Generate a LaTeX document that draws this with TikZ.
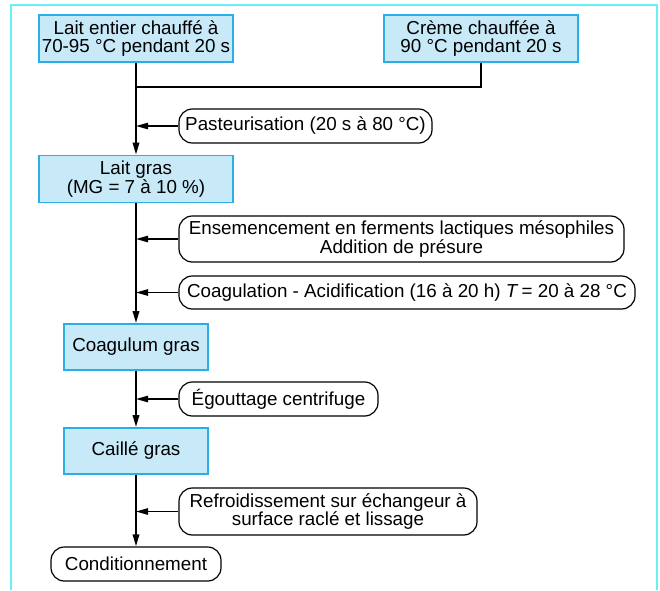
\documentclass[tikz,border=0pt]{standalone}
\usepackage{fontspec}
\setmainfont{Liberation Sans}
\usetikzlibrary{arrows.meta}
\definecolor{framecyan}{HTML}{66F2F5}
\definecolor{boxfill}{HTML}{C7E9F8}
\definecolor{boxline}{HTML}{2AAEE6}
\tikzset{
  bluebox/.style={draw=boxline, fill=boxfill, line width=1.3pt, inner sep=0pt, align=center, font=\fontsize{14.1}{13.8}\selectfont},
  pill/.style={draw=black, line width=0.9pt, rounded corners=10pt, inner sep=0pt, align=center, font=\fontsize{14.1}{13.8}\selectfont},
  mainline/.style={line width=1.5pt},
  arr/.style={-{Triangle[length=9pt,width=4.8pt]}},
}
\begin{document}
\begin{tikzpicture}[x=0.75pt,y=-0.75pt]
\useasboundingbox (0,0) rectangle (660,590);
\draw[framecyan, line width=1.8pt] (11,590) -- (11,5) -- (657,5) -- (657,590);

\node[bluebox, minimum width=194*0.75pt, minimum height=47*0.75pt] (b1) at (136,38.5) {Lait entier chauffé à\\70-95 °C pendant 20 s};
\node[bluebox, minimum width=194*0.75pt, minimum height=47*0.75pt] (b2) at (481,38.5) {Crème chauffée à\\90 °C pendant 20 s};
\coordinate (j) at (136,87);
\node[pill, minimum width=253*0.75pt, minimum height=34*0.75pt] (p1) at (305.5,126) {Pasteurisation (20 s à 80 °C)};
\node[bluebox, minimum width=194*0.75pt, minimum height=47*0.75pt] (lg) at (136,179) {Lait gras\\(MG = 7 à 10 \%)};
\node[pill, minimum width=445*0.75pt, minimum height=46*0.75pt] (p2) at (401.5,239) {Ensemencement en ferments lactiques mésophiles\\Addition de présure};
\node[pill, minimum width=456*0.75pt, minimum height=33*0.75pt] (p3) at (407,292.5) {Coagulation - Acidification (16 à 20 h) \textit{T}\,= 20 à 28 °C};
\node[bluebox, minimum width=144*0.75pt, minimum height=46*0.75pt] (cg) at (136,347) {Coagulum gras};
\node[pill, minimum width=199*0.75pt, minimum height=34*0.75pt] (p4) at (278.5,399) {Égouttage centrifuge};
\node[bluebox, minimum width=144*0.75pt, minimum height=46*0.75pt] (ca) at (136,451) {Caillé gras};
\node[pill, minimum width=298*0.75pt, minimum height=47*0.75pt] (p5) at (328,511.5) {Refroidissement sur échangeur à\\surface raclé et lissage};
\node[pill, minimum width=170*0.75pt, minimum height=34*0.75pt] (cd) at (136,564) {Conditionnement};

\draw[mainline] (b2.south) |- (j);
\draw[mainline, arr] (b1.south) -- (lg.north);
\draw[mainline, arr] (lg.south) -- (cg.north);
\draw[mainline, arr] (cg.south) -- (ca.north);
\draw[mainline, arr] (ca.south) -- (cd.north);

\draw[line width=1pt, arr] (p1.west) -- (p1.west -| b1.south);
\draw[line width=1pt, arr] (p2.west) -- (p2.west -| b1.south);
\draw[line width=1pt, arr] (p3.west) -- (p3.west -| b1.south);
\draw[line width=1pt, arr] (p4.west) -- (p4.west -| b1.south);
\draw[line width=1pt, arr] (p5.west) -- (p5.west -| b1.south);
\end{tikzpicture}
\end{document}
